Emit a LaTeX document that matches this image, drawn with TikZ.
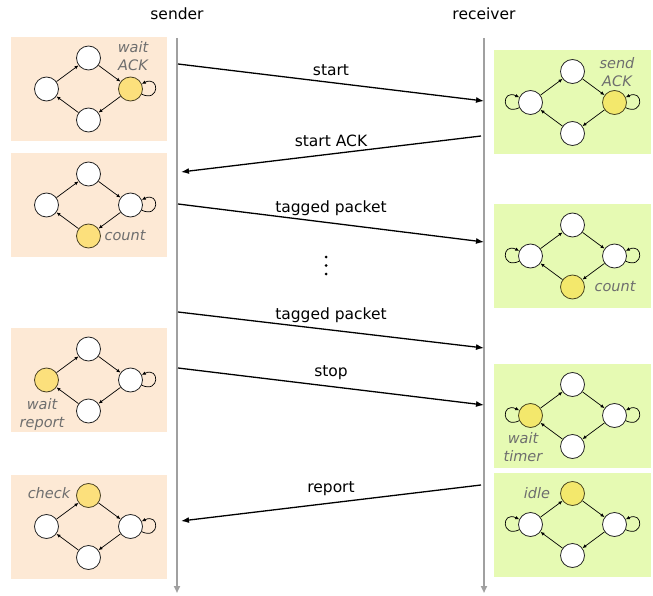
\documentclass[tikz,border=0pt]{standalone}
\usepackage{fontspec}
\setmainfont{DejaVu Sans}
\usetikzlibrary{arrows.meta}

\definecolor{peach}{HTML}{FDE9D5}
\definecolor{lime}{HTML}{E6FAB3}
\definecolor{sendyellow}{HTML}{FCE07C}
\definecolor{recvyellow}{HTML}{F3E86C}
\definecolor{lifegray}{HTML}{A0A0A0}
\definecolor{labelgray}{HTML}{6E6E6E}

\tikzset{
  state/.style={circle, draw=black!85, line width=0.8pt, fill=white, minimum size=24pt, inner sep=0pt},
  sendhot/.style={state, fill=sendyellow, draw=black!70!sendyellow},
  recvhot/.style={state, fill=recvyellow, draw=black!70!recvyellow},
  sendbox/.style={fill=peach, minimum width=156pt, minimum height=104pt, inner sep=0pt},
  recvbox/.style={fill=lime, minimum width=157pt, minimum height=104pt, inner sep=0pt},
  edge/.style={-{Latex[length=4pt,width=3.5pt]}, line width=0.7pt},
  selfloop/.style={edge, min distance=20pt},
  statelabel/.style={text=labelgray, font=\fontsize{14.5}{18}\selectfont\itshape, align=center, inner sep=0pt},
  lifeline/.style={draw=lifegray, line width=1.8pt, -{Triangle[length=7pt,width=6pt]}},
  message/.style={line width=1.3pt, -{Latex[length=8pt,width=6pt]}},
  msglabel/.style={font=\fontsize{15.5}{18}\selectfont, above=3pt},
  dot/.style={circle, fill=black, minimum size=3pt, inner sep=0pt},
}

% one four-state machine: prefix, x, y, box style, styles of left/top/right/bottom
\newcommand{\fsm}[8]{%
  \node[#4] (#1box) at (#2,#3) {};
  \node[#5] (#1l) at ({#2-42},#3) {};
  \node[#6] (#1t) at (#2,{#3-31}) {};
  \node[#7] (#1r) at ({#2+42},#3) {};
  \node[#8] (#1b) at (#2,{#3+31}) {};
  \draw[edge] (#1l) -- (#1t);
  \draw[edge] (#1t) -- (#1r);
  \draw[edge] (#1r) -- (#1b);
  \draw[edge] (#1b) -- (#1l);
}

\begin{document}
\begin{tikzpicture}[x=1pt, y=-1pt]
  \useasboundingbox (0,0) rectangle (653,596);

  % lifelines
  \node[font=\fontsize{15.5}{18}\selectfont] (sender) at (177,14) {sender};
  \node[font=\fontsize{15.5}{18}\selectfont] (receiver) at (484,14) {receiver};
  \coordinate (sendtop) at (177,38);
  \coordinate (sendend) at (177,593);
  \coordinate (recvtop) at (484,38);
  \coordinate (recvend) at (484,593);
  \draw[lifeline] (sendtop) -- (sendend);
  \draw[lifeline] (recvtop) -- (recvend);

  % sender side
  \fsm{sa}{88.5}{89}{sendbox}{state}{state}{sendhot}{state}
  \fsm{sb}{88.5}{205}{sendbox}{state}{state}{state}{sendhot}
  \fsm{sc}{88.5}{380}{sendbox}{sendhot}{state}{state}{state}
  \fsm{sd}{88.5}{526.5}{sendbox}{state}{sendhot}{state}{state}
  \foreach \m in {sa,sb,sc,sd}
    \draw[selfloop] (\m r) to[out=-25, in=25] (\m r);

  % receiver side
  \fsm{ra}{572.5}{102.5}{recvbox}{state}{state}{recvhot}{state}
  \fsm{rb}{572.5}{256}{recvbox}{state}{state}{state}{recvhot}
  \fsm{rc}{572.5}{415.5}{recvbox}{recvhot}{state}{state}{state}
  \fsm{rd}{572.5}{524.5}{recvbox}{state}{recvhot}{state}{state}
  \foreach \m in {ra,rb,rc,rd} {
    \draw[selfloop] (\m r) to[out=-25, in=25] (\m r);
    \draw[selfloop] (\m l) to[out=205, in=155] (\m l);
  }

  % state names
  \node[statelabel] (waitack) at (133,56) {wait\\ACK};
  \node[statelabel] (sendack) at (617,72) {send\\ACK};
  \node[statelabel] (scount) at (125,236) {count};
  \node[statelabel] (rcount) at (615,287) {count};
  \node[statelabel] (waitrep) at (42,414) {wait\\report};
  \node[statelabel] (waittim) at (523,447) {wait\\timer};
  \node[statelabel] (check) at (49,493) {check};
  \node[statelabel] (idle) at (537,493) {idle};

  % messages
  \coordinate (m1a) at (178,64);  \coordinate (m1b) at (484,101);
  \coordinate (m2a) at (481,136); \coordinate (m2b) at (181,172);
  \coordinate (m3a) at (178,204); \coordinate (m3b) at (484,242);
  \coordinate (m4a) at (178,312); \coordinate (m4b) at (484,348);
  \coordinate (m5a) at (178,368); \coordinate (m5b) at (484,405);
  \coordinate (m6a) at (481,485); \coordinate (m6b) at (181,521);
  \draw[message] (m1a) -- node[msglabel] {start} (m1b);
  \draw[message] (m2a) -- node[msglabel] {start ACK} (m2b);
  \draw[message] (m3a) -- node[msglabel] {tagged packet} (m3b);
  \draw[message] (m4a) -- node[msglabel] {tagged packet} (m4b);
  \draw[message] (m5a) -- node[msglabel] {stop} (m5b);
  \draw[message] (m6a) -- node[msglabel] {report} (m6b);

  % more packets
  \node[dot] (dota) at (326,257) {};
  \node[dot] (dotb) at (326,265.5) {};
  \node[dot] (dotc) at (326,274) {};
\end{tikzpicture}
\end{document}
